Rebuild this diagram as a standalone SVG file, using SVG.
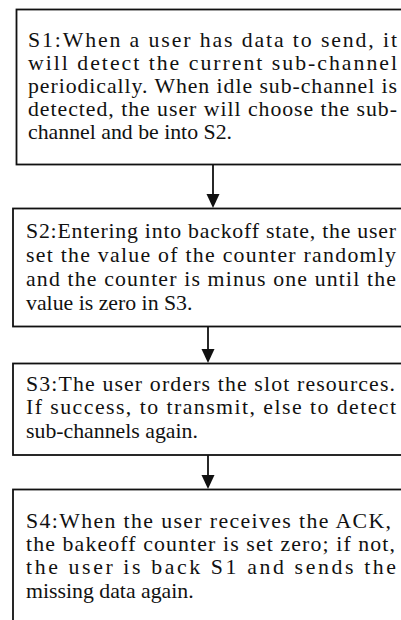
<svg xmlns="http://www.w3.org/2000/svg" width="401" height="620" viewBox="0 0 401 620">
<style>
.box{fill:#fff;stroke:#111;stroke-width:1.8}
.t{font-family:"Liberation Serif","Times New Roman",serif;font-size:21.8px;fill:#111}
.c{stroke:#111;stroke-width:1.8;fill:none}
.ah{fill:#111}
</style>
<rect width="401" height="620" fill="#fff"/>
<g id="connectors">
<line class="c" x1="213" y1="165" x2="213" y2="200"/>
<path class="ah" d="M206.5,194 L219.5,194 L213,208 Z"/>
<line class="c" x1="208" y1="327" x2="208" y2="355"/>
<path class="ah" d="M201.5,349 L214.5,349 L208,363 Z"/>
<line class="c" x1="208" y1="455" x2="208" y2="481"/>
<path class="ah" d="M201.5,475 L214.5,475 L208,489 Z"/>
</g>
<g id="s1">
<rect class="box" x="16.5" y="9.5" width="420" height="155"/>
<text class="t" x="28" y="47" textLength="369" lengthAdjust="spacing">S1:When a user has data to send, it</text>
<text class="t" x="28" y="70" textLength="369" lengthAdjust="spacing">will detect the current sub-channel</text>
<text class="t" x="28" y="93" textLength="369" lengthAdjust="spacing">periodically. When idle sub-channel is</text>
<text class="t" x="28" y="116" textLength="369" lengthAdjust="spacing">detected, the user will choose the sub-</text>
<text class="t" x="28" y="139">channel and be into S2.</text>
</g>
<g id="s2">
<rect class="box" x="13" y="208.5" width="420" height="118"/>
<text class="t" x="26" y="238" textLength="370" lengthAdjust="spacing">S2:Entering into backoff state, the user</text>
<text class="t" x="26" y="262" textLength="370" lengthAdjust="spacing">set the value of the counter randomly</text>
<text class="t" x="26" y="286" textLength="370" lengthAdjust="spacing">and the counter is minus one until the</text>
<text class="t" x="26" y="310">value is zero in S3.</text>
</g>
<g id="s3">
<rect class="box" x="13" y="363.5" width="420" height="91.5"/>
<text class="t" x="26" y="391" textLength="369" lengthAdjust="spacing">S3:The user orders the slot resources.</text>
<text class="t" x="26" y="414" textLength="370" lengthAdjust="spacing">If success, to transmit, else to detect</text>
<text class="t" x="26" y="438">sub-channels again.</text>
</g>
<g id="s4">
<rect class="box" x="13" y="489.5" width="420" height="160"/>
<text class="t" x="26" y="528" textLength="365" lengthAdjust="spacing">S4:When the user receives the ACK,</text>
<text class="t" x="26" y="551" textLength="369" lengthAdjust="spacing">the bakeoff counter is set zero; if not,</text>
<text class="t" x="26" y="574" textLength="370" lengthAdjust="spacing">the user is back S1 and sends the</text>
<text class="t" x="26" y="598">missing data again.</text>
</g>
</svg>
